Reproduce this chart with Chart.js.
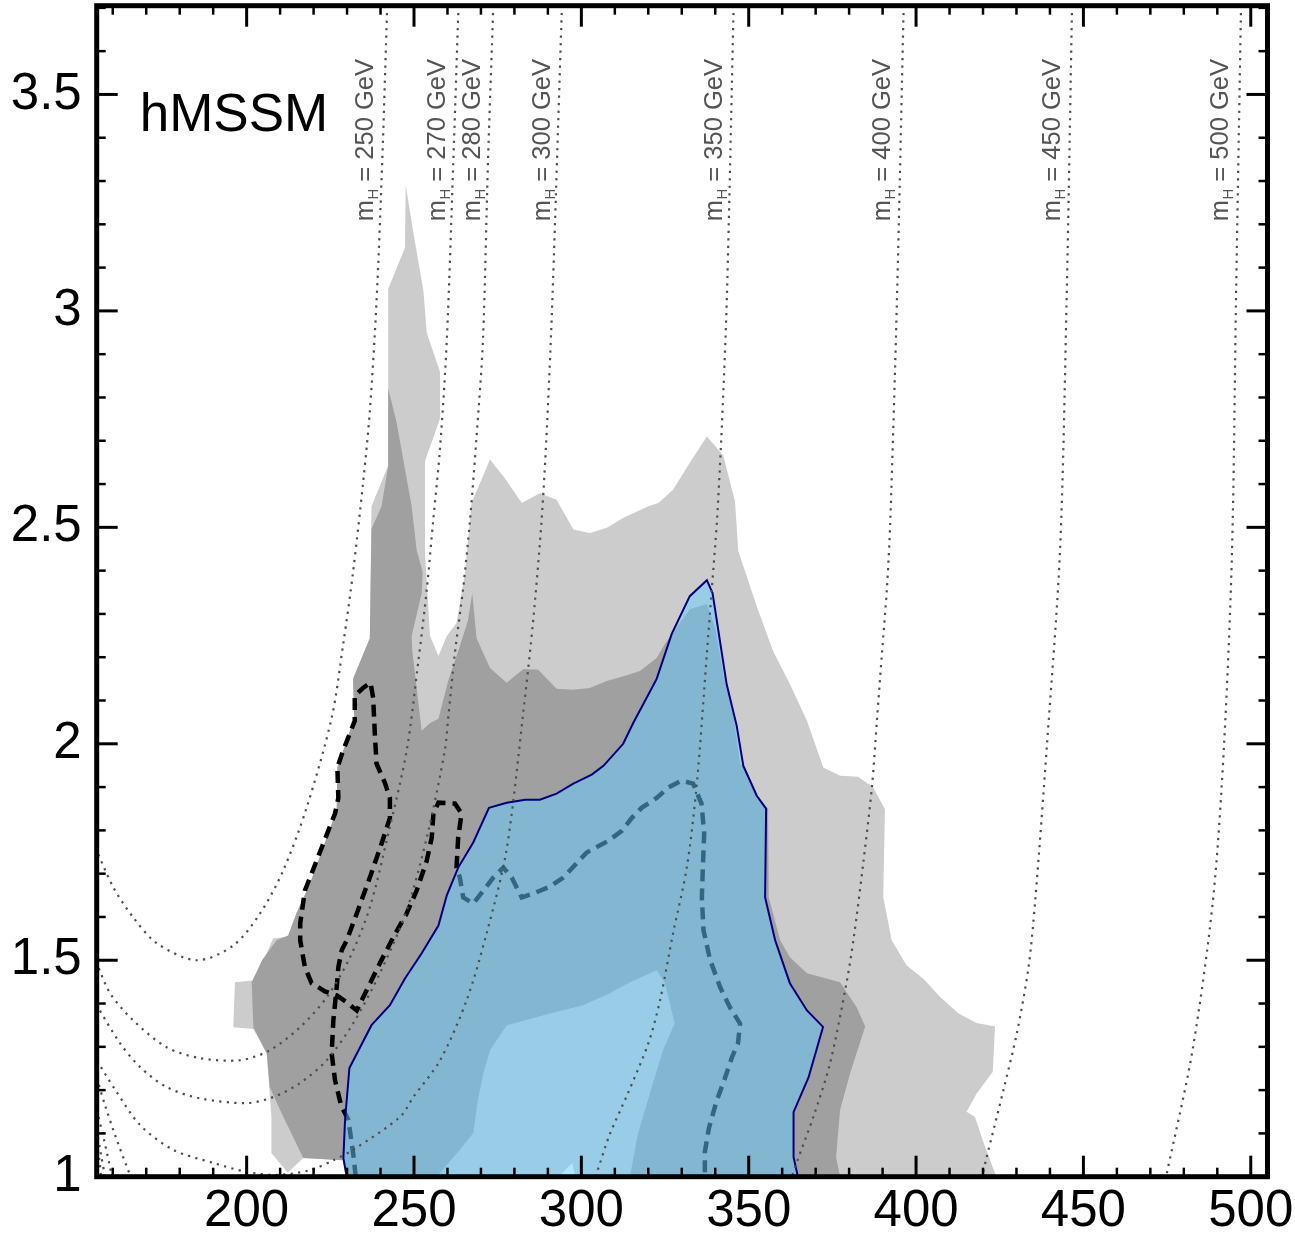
<!DOCTYPE html>
<html>
<head>
<meta charset="utf-8">
<script src="https://cdn.jsdelivr.net/npm/chart.js@4.4.1/dist/chart.umd.min.js"></script>
<style>
  html, body { margin: 0; padding: 0; background: #fff; }
  #wrap { width: 1295px; height: 1236px; }
</style>
</head>
<body>
<div id="wrap"><canvas id="chart"></canvas></div>
<script>
// hMSSM exclusion in the (m_A, tan beta) plane. Points are [m_A, tan beta].

const xTicks = [200, 250, 300, 350, 400, 450, 500];
const yTicks = [1, 1.5, 2, 2.5, 3, 3.5];

// +2 sigma edge (light grey)
const band2Outer = [[212.3,1.009],[207.4,1.055],[207.4,1.138],[206.0,1.285],[202.0,1.341],[196.0,1.345],[196.5,1.449],[202.5,1.454],[207.9,1.550],[212.4,1.555],[214.9,1.609],[218.9,1.677],[223.9,1.783],[226.9,1.846],[227.1,1.945],[229.9,2.007],[232.1,2.060],[231.8,2.150],[236.8,2.244],[237.3,2.549],[242.3,2.643],[242.3,3.051],[247.3,3.146],[247.5,3.291],[249.8,3.181],[252.8,3.047],[253.8,2.950],[257.8,2.858],[257.8,2.752],[253.3,2.653],[253.3,2.438],[254.8,2.249],[257.3,2.203],[259.8,2.249],[262.7,2.279],[265.2,2.392],[267.2,2.556],[272.7,2.657],[277.2,2.613],[282.2,2.556],[287.6,2.579],[292.6,2.564],[297.6,2.495],[302.5,2.487],[307.6,2.499],[312.6,2.522],[320.0,2.549],[323.0,2.556],[327.4,2.587],[332.4,2.649],[337.5,2.710],[342.4,2.666],[345.9,2.560],[346.9,2.445],[352.4,2.318],[357.3,2.214],[362.3,2.138],[367.4,2.053],[372.3,1.945],[377.3,1.926],[382.7,1.924],[387.2,1.899],[390.7,1.849],[390.2,1.646],[392.7,1.546],[397.2,1.488],[402.2,1.457],[407.2,1.415],[412.7,1.377],[418.1,1.355],[423.6,1.347],[422.9,1.242],[418.1,1.192],[415.1,1.150],[417.6,1.138],[420.6,1.069],[424.0,1.0],[229.7,1.0],[228.8,1.038],[216.9,1.043]];

// +1 sigma edge (dark grey)
const band1Outer = [[216.9,1.043],[210.4,1.147],[206.9,1.207],[206.0,1.285],[202.0,1.345],[201.5,1.449],[204.6,1.500],[208.9,1.546],[212.4,1.557],[214.9,1.609],[218.9,1.677],[223.9,1.783],[226.9,1.846],[227.1,1.945],[229.9,2.007],[232.1,2.060],[231.8,2.150],[236.8,2.244],[237.3,2.496],[240.3,2.549],[242.3,2.643],[242.3,2.821],[244.8,2.742],[249.3,2.549],[250.8,2.447],[252.6,2.397],[252.3,2.348],[249.3,2.249],[249.5,2.214],[252.3,2.030],[254.8,2.048],[257.3,2.058],[260.2,2.145],[263.2,2.214],[266.1,2.284],[267.4,2.348],[268.7,2.244],[272.7,2.175],[277.7,2.141],[282.7,2.173],[287.1,2.171],[292.6,2.127],[297.6,2.125],[302.5,2.129],[307.6,2.145],[313.1,2.157],[317.5,2.168],[322.5,2.198],[325.0,2.231],[332.4,2.311],[337.5,2.323],[340.0,2.267],[342.4,2.161],[345.4,2.069],[347.4,1.954],[348.9,1.945],[352.8,1.880],[355.8,1.850],[356.0,1.645],[359.4,1.546],[362.3,1.507],[367.4,1.470],[377.3,1.449],[382.3,1.391],[384.8,1.347],[380.3,1.239],[377.3,1.154],[376.1,1.045],[377.3,1.0],[229.7,1.0],[228.8,1.038]];

// -1 sigma edge (back to light grey) and -2 sigma edge (white)
const band1Inner = [[256.8,1.0],[263.7,1.062],[267.7,1.101],[269.1,1.177],[270.7,1.239],[272.7,1.292],[277.7,1.350],[290.6,1.377],[300.5,1.396],[308.5,1.424],[314.5,1.449],[322.5,1.477],[325.0,1.447],[327.9,1.354],[324.4,1.292],[321.3,1.214],[316.8,1.096],[314.5,1.0]];
const band2Inner = [[293.3,1.0],[297.3,1.032],[298.1,1.0]];

// observed exclusion
const observed = [[229.9,1.0],[228.9,1.043],[229.4,1.131],[230.7,1.251],[237.3,1.350],[242.8,1.396],[247.3,1.458],[252.3,1.516],[257.3,1.580],[259.8,1.650],[263.2,1.714],[267.7,1.772],[272.4,1.852],[277.7,1.864],[283.2,1.871],[287.6,1.871],[292.6,1.885],[297.6,1.908],[303.1,1.929],[306.6,1.949],[312.5,2.000],[315.5,2.048],[322.5,2.150],[327.0,2.254],[332.4,2.341],[337.5,2.378],[339.2,2.348],[343.4,2.138],[346.4,2.042],[348.4,1.949],[352.4,1.880],[355.2,1.850],[354.9,1.645],[357.9,1.546],[362.3,1.447],[367.4,1.384],[372.2,1.346],[367.9,1.230],[363.4,1.149],[363.4,1.045],[364.7,1.0]];

// expected limit
const expected = [[232.6,1.0],[231.8,1.055],[230.4,1.131],[228.2,1.165],[226.4,1.223],[225.4,1.285],[225.9,1.361],[226.9,1.437],[227.4,1.484],[228.4,1.523],[229.9,1.546],[232.9,1.608],[236.8,1.691],[240.3,1.769],[242.8,1.829],[242.8,1.875],[241.3,1.910],[238.8,1.954],[238.3,2.023],[237.8,2.106],[237.0,2.141],[234.8,2.129],[232.3,2.111],[232.3,2.053],[228.8,1.984],[227.1,1.945],[227.4,1.875],[226.4,1.839],[220.9,1.730],[217.4,1.661],[216.0,1.585],[216.0,1.546],[217.4,1.484],[219.4,1.447],[223.4,1.428],[226.9,1.419],[229.9,1.403],[232.9,1.384],[235.8,1.430],[239.8,1.493],[243.8,1.553],[247.8,1.608],[250.8,1.661],[253.8,1.730],[255.3,1.783],[255.8,1.839],[257.3,1.864],[262.2,1.862],[264.2,1.839],[263.2,1.783],[262.7,1.714],[263.7,1.691],[264.7,1.645],[267.7,1.631],[270.7,1.661],[273.7,1.691],[276.7,1.714],[279.2,1.691],[282.2,1.645],[285.6,1.654],[290.6,1.670],[294.6,1.691],[301.6,1.749],[308.1,1.776],[312.1,1.799],[315.1,1.829],[318.0,1.852],[322.5,1.875],[326.0,1.899],[329.9,1.915],[333.4,1.908],[335.9,1.862],[336.7,1.792],[336.3,1.714],[336.0,1.645],[336.5,1.569],[338.5,1.500],[341.5,1.437],[344.4,1.391],[347.4,1.354],[346.8,1.308],[345.0,1.276],[342.7,1.223],[340.4,1.175],[338.1,1.112],[336.9,1.057],[336.9,1.0]];

// m_H contours
const massValues = [250, 270, 280, 300, 350, 400, 450, 500];
const mH250 = [[242.0,3.705],[240.5,3.344],[238.8,3.021],[236.8,2.768],[234.8,2.604],[231.8,2.397],[228.9,2.233],[225.4,2.060],[217.9,1.852],[210.9,1.707],[204.0,1.608],[196.0,1.534],[185.1,1.500],[173.2,1.539],[166.1,1.599],[160.2,1.668],[155.2,1.753]];
const mH270 = [[263.3,3.705],[261.7,3.335],[259.8,2.932],[257.8,2.685],[255.8,2.521],[253.8,2.355],[251.3,2.191],[247.8,1.984],[242.3,1.792],[236.8,1.622],[230.9,1.507],[223.9,1.414],[215.9,1.345],[206.9,1.292],[198.0,1.269],[186.0,1.274],[176.1,1.299],[166.1,1.361],[159.2,1.424],[155.2,1.493]];
const mH280 = [[273.7,3.705],[272.1,3.344],[270.6,2.932],[268.7,2.710],[266.7,2.514],[264.7,2.360],[262.2,2.208],[260.2,2.058],[259.2,1.984],[253.8,1.783],[247.8,1.615],[239.8,1.470],[231.8,1.354],[223.9,1.269],[215.9,1.216],[208.0,1.184],[200.0,1.170],[186.0,1.181],[176.1,1.207],[168.2,1.253],[162.2,1.308],[155.2,1.396]];
const mH300 = [[294.2,3.705],[291.4,3.038],[289.8,2.745],[288.1,2.514],[285.6,2.284],[282.6,2.069],[277.6,1.753],[271.7,1.562],[265.7,1.407],[257.8,1.269],[249.8,1.184],[245.8,1.138],[231.8,1.062],[225.9,1.038],[218.9,1.015],[209.0,1.004],[200.0,1.011],[190.0,1.032],[178.1,1.062],[168.2,1.119],[160.8,1.200],[155.2,1.269]];
const mH350 = [[345.5,3.705],[343.5,3.038],[342.0,2.738],[340.5,2.514],[339.0,2.360],[337.5,2.208],[334.5,1.908],[331.5,1.714],[327.4,1.562],[323.5,1.407],[320.0,1.308],[313.8,1.191],[308.4,1.096],[304.7,1.011],[304.1,1.0]];
const mH350Low = [[155.2,1.228],[157.7,1.165],[160.7,1.096],[164.6,1.015],[165.5,1.0]];
const mH400 = [[396.3,3.705],[394.3,3.028],[392.3,2.514],[391.3,2.360],[389.8,2.208],[388.3,2.053],[386.8,1.899],[384.2,1.723],[381.4,1.553],[379.2,1.447],[374.3,1.262],[369.3,1.138],[364.3,1.032],[362.9,1.0]];
const mH400Low = [[155.2,1.154],[157.4,1.085],[159.8,1.0]];
const mH450 = [[446.6,3.705],[445.0,3.033],[443.0,2.445],[439.1,1.997],[435.6,1.638],[433.6,1.484],[430.1,1.331],[426.1,1.200],[421.1,1.045],[419.7,1.0]];
const mH450Low = [[155.2,1.108],[156.5,1.050],[157.7,1.0]];
const mH500 = [[497.1,3.705],[495.6,3.033],[494.4,2.445],[492.0,1.995],[488.7,1.638],[482.6,1.292],[475.0,1.011],[474.6,1.0]];
const mH500Low = [[155.2,1.078],[156.0,1.038],[156.5,1.0]];

const FONT = '"Liberation Sans", Arial, Helvetica, sans-serif';
const toXY = pts => pts.map(([x, y]) => ({ x, y }));

function area(pts, color, order) {
  return { data: toXY(pts), fill: 'shape', backgroundColor: color, borderColor: 'transparent',
           borderWidth: 0, pointRadius: 0, tension: 0, order };
}
function dotted(pts) {
  return { data: toXY(pts), fill: false, borderColor: '#4d4d4d', borderWidth: 2.2,
           borderDash: [2.2, 5.3], borderCapStyle: 'butt', pointRadius: 0, tension: 0.3, order: 1 };
}

// label anchors for the m_H contours (data units)
const massLabelX = [237.7, 259.3, 269.7, 290.6, 341.9, 392.2, 443.0, 493.2];
const massLabelY = 3.207;

const labelsPlugin = {
  id: 'labels',
  afterDatasetsDraw(chart) {
    const { ctx, chartArea: a, scales: { x, y } } = chart;
    ctx.save();
    ctx.fillStyle = '#000';
    ctx.font = '53px ' + FONT;
    ctx.textBaseline = 'alphabetic';
    ctx.fillText('hMSSM', a.left + 43, 131);

    ctx.fillStyle = '#555';
    massValues.forEach((m, i) => {
      ctx.save();
      ctx.translate(x.getPixelForValue(massLabelX[i]), y.getPixelForValue(massLabelY));
      ctx.rotate(-Math.PI / 2);
      ctx.font = '25.5px ' + FONT;
      ctx.fillText('m', 0, 0);
      let w = ctx.measureText('m').width;
      ctx.font = '15px ' + FONT;
      ctx.fillText('H', w + 0.5, 5);
      w += ctx.measureText('H').width + 0.5;
      ctx.font = '25.5px ' + FONT;
      ctx.fillText(' = ' + m + ' GeV', w, 0);
      ctx.restore();
    });
    ctx.restore();
  }
};

const framePlugin = {
  id: 'frame',
  afterDraw(chart) {
    const { ctx, chartArea: a, scales: { x, y } } = chart;
    ctx.save();
    ctx.strokeStyle = '#000';
    ctx.lineCap = 'butt';
    const seg = (x1, y1, x2, y2) => { ctx.beginPath(); ctx.moveTo(x1, y1); ctx.lineTo(x2, y2); ctx.stroke(); };
    for (let i = 16; i <= 50; i++) {
      const p = x.getPixelForValue(i * 10);
      const major = i % 5 === 0;
      const len = major ? 21 : 9;
      ctx.lineWidth = major ? 3 : 2.5;
      seg(p, a.bottom, p, a.bottom - len);
      seg(p, a.top, p, a.top + len);
    }
    for (let i = 11; i <= 37; i++) {
      const p = y.getPixelForValue(i / 10);
      const major = i % 5 === 0;
      const len = major ? 21 : 9;
      ctx.lineWidth = major ? 3 : 2.5;
      seg(a.left, p, a.left + len, p);
      seg(a.right, p, a.right - len, p);
    }
    ctx.lineWidth = 5;
    ctx.strokeRect(a.left, a.top, a.right - a.left, a.bottom - a.top);
    ctx.restore();
  }
};

const datasets = [
  dotted(mH250), dotted(mH270), dotted(mH280), dotted(mH300),
  dotted(mH350), dotted(mH350Low), dotted(mH400), dotted(mH400Low),
  dotted(mH450), dotted(mH450Low), dotted(mH500), dotted(mH500Low),
  { data: toXY(observed), fill: 'shape', backgroundColor: 'rgba(102,204,255,0.5)',
    borderColor: '#000080', borderWidth: 2, pointRadius: 0, tension: 0, order: 2 },
  { data: toXY(expected), fill: false, borderColor: '#000', borderWidth: 4.5,
    borderDash: [12, 7], borderCapStyle: 'butt', pointRadius: 0, tension: 0, order: 3 },
  area(band2Inner, '#ffffff', 4),
  area(band1Inner, '#cccccc', 5),
  area(band1Outer, '#a0a0a0', 6),
  area(band2Outer, '#cccccc', 7),
];

new Chart(document.getElementById('chart'), {
  type: 'line',
  data: { datasets },
  options: {
    responsive: true,
    maintainAspectRatio: false,
    animation: false,
    events: [],
    layout: { padding: { top: 5.7, right: 27.5, bottom: 0, left: 0 }, autoPadding: false },
    plugins: { legend: { display: false }, tooltip: { enabled: false } },
    scales: {
      x: {
        type: 'linear', min: 155.2, max: 505,
        grid: { display: false, drawTicks: false }, border: { display: false },
        afterBuildTicks: s => { s.ticks = xTicks.map(v => ({ value: v })); },
        afterFit: s => { s.height = 59.3; s.paddingLeft = 0; s.paddingRight = 0; },
        ticks: { font: { family: FONT, size: 51 }, color: '#000', padding: 5,
                 maxRotation: 0, autoSkip: false, callback: v => String(v) }
      },
      y: {
        type: 'linear', min: 1, max: 3.705,
        grid: { display: false, drawTicks: false }, border: { display: false },
        afterBuildTicks: s => { s.ticks = yTicks.map(v => ({ value: v })); },
        afterFit: s => { s.width = 96.7; s.paddingTop = 0; s.paddingBottom = 0; },
        ticks: { font: { family: FONT, size: 51 }, color: '#000', padding: 15,
                 autoSkip: false, callback: v => String(v) }
      }
    }
  },
  plugins: [labelsPlugin, framePlugin]
});
</script>
</body>
</html>
